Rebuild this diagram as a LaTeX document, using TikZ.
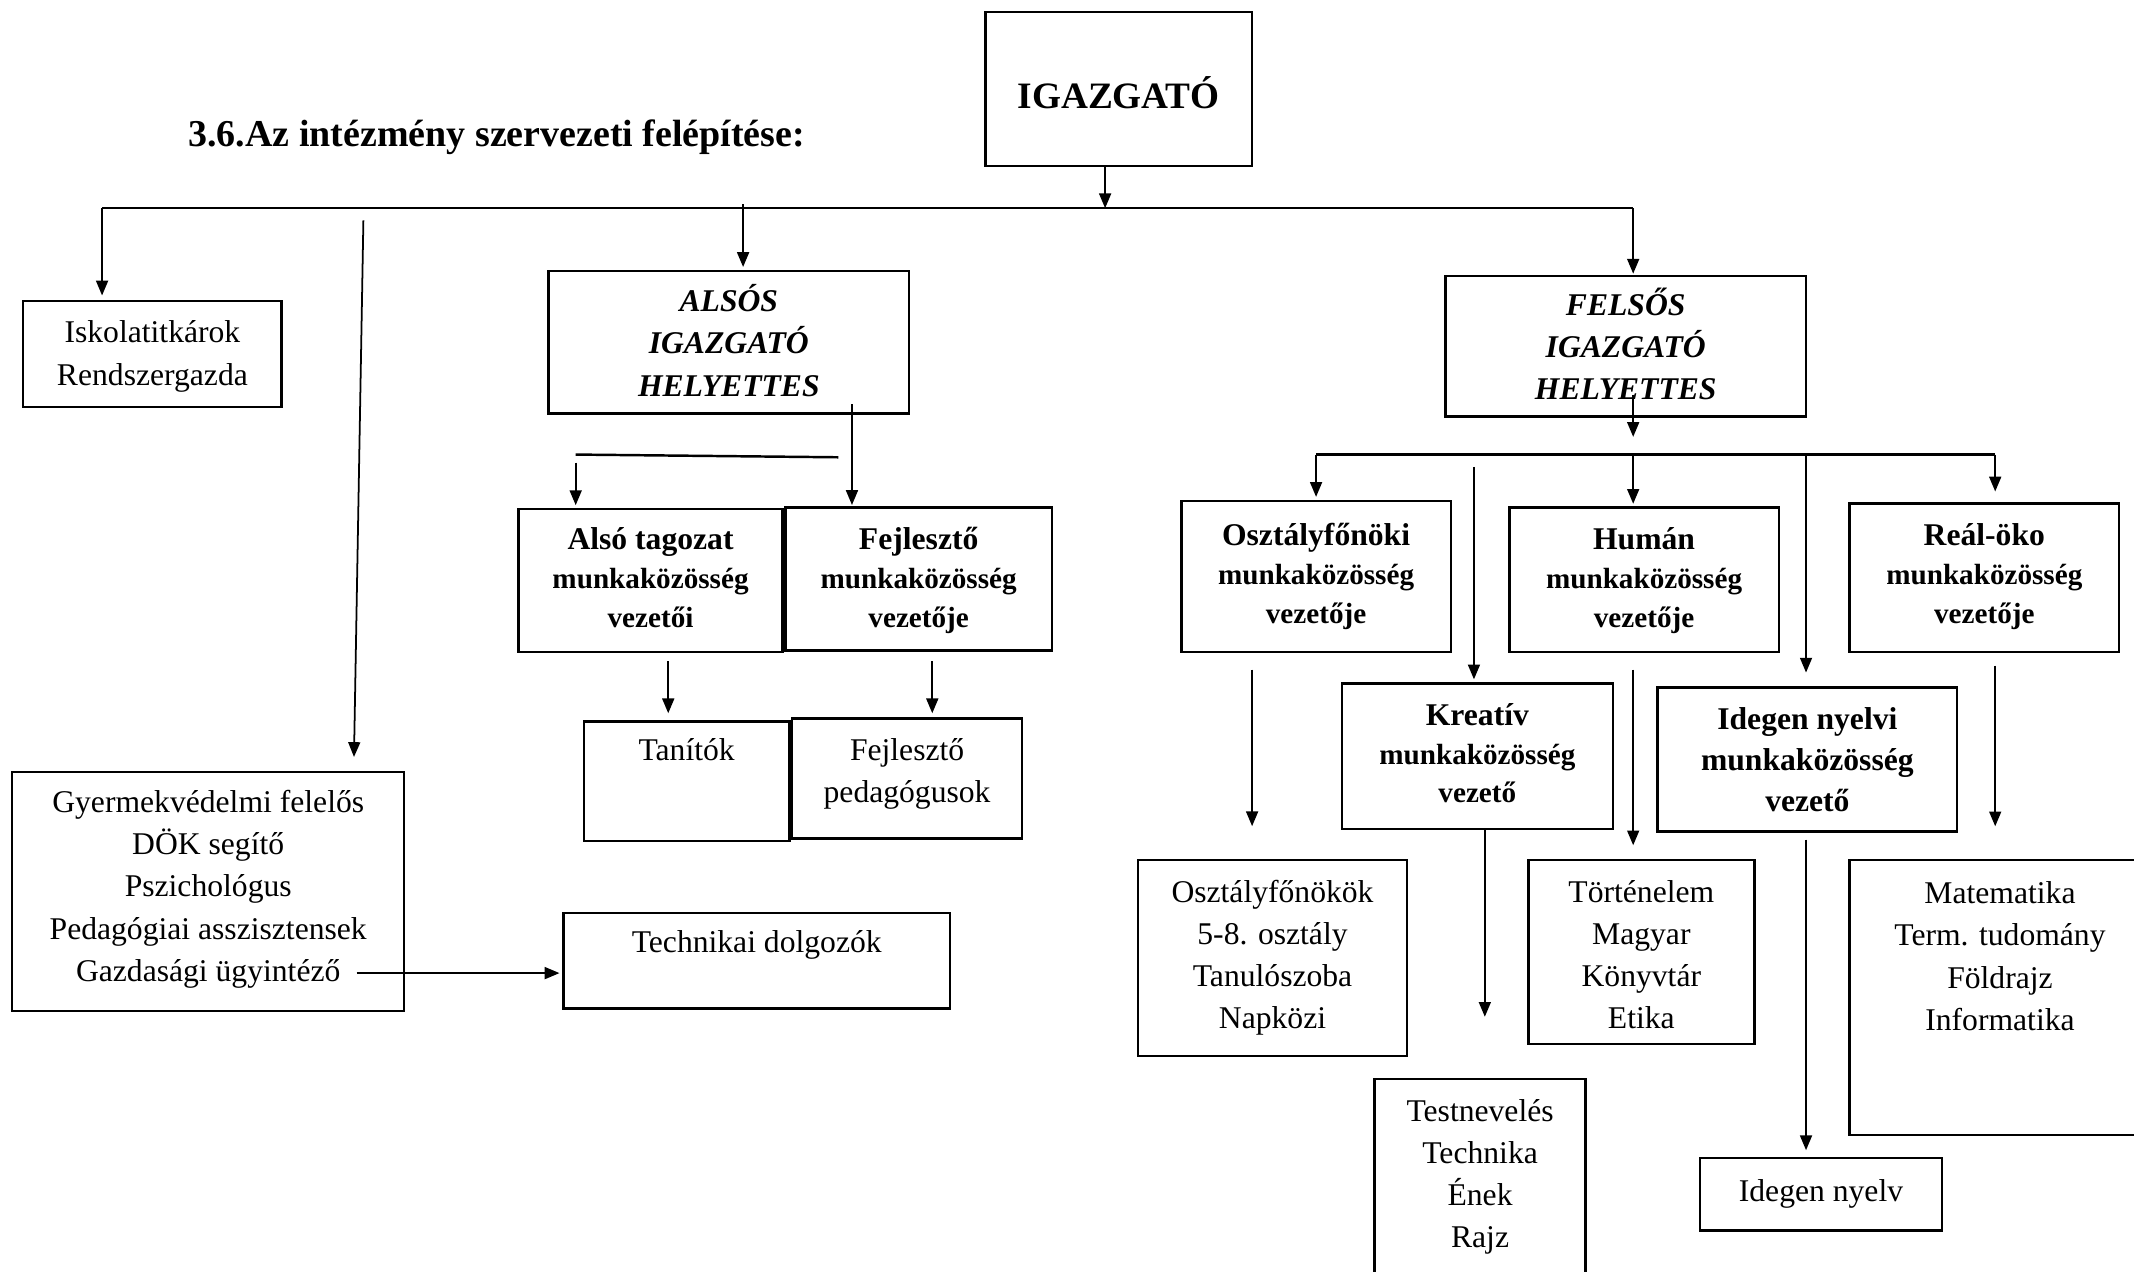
\documentclass[tikz,border=0pt]{standalone}
\usepackage{fontspec}
\setmainfont{Liberation Serif}
\usepackage{tikz}
\usetikzlibrary{fit}
\usetikzlibrary{calc}
\usetikzlibrary{arrows.meta}
\usetikzlibrary{positioning}

\newcommand{\mksmall}[1]{{\fontsize{8.3}{11}\selectfont #1}}

\tikzset{
  box/.style={draw, line width=0.7pt, inner sep=0pt, align=center, font=\fontsize{9}{12}\selectfont},
  leadbox/.style={box, font=\fontsize{9}{11}\selectfont\bfseries},
  deputybox/.style={box, font=\fontsize{9}{12}\selectfont\bfseries\itshape},
  tb/.style 2 args={text height=#1, text depth=#2},
  arr/.style={-{Triangle[length=4.2pt,width=3.4pt]}, line width=0.5pt},
  busline/.style={line width=0.7pt},
}

\begin{document}
\begin{tikzpicture}[x=0.01361cm, y=-0.01361cm]
        \clip (0,0) rectangle (1568,934);
        % title and head
        \node[anchor=west, inner sep=0pt, font=\fontsize{10.8}{13}\selectfont\bfseries] (title) at (138,101) {3.6.Az intézmény szervezeti felépítése:};
        \node[box, font=\fontsize{10.6}{13}\selectfont\bfseries, fit={(724,9) (920,122)}, tb={27.3pt}{16.5pt}] (igaz) {IGAZGATÓ};

        % first level
        \node[box, fit={(17,221) (207,299)}, tb={12pt}{18.2pt}]            (isk)   {Iskolatitkárok\\Rendszergazda};
        \node[deputybox, fit={(403,199) (668,304)}, tb={11.6pt}{29pt}]     (also)  {ALSÓS\\IGAZGATÓ\\HELYETTES};
        \node[deputybox, fit={(1062,203) (1327,306)}, tb={11.2pt}{28.7pt}] (felso) {FELSŐS\\IGAZGATÓ\\HELYETTES};
        \node[box, fit={(9,567) (297,743)}, tb={11.6pt}{56.5pt}]           (gyv)   {Gyermekvédelmi felelős\\DÖK segítő\\Pszichológus\\Pedagógiai asszisztensek\\Gazdasági ügyintéző};
        \node[box, fit={(414,671) (698,741)}, tb={11.2pt}{15.9pt}]         (tech)  {Technikai dolgozók};

        % alsos side
        \node[leadbox, fit={(381,374) (575,479)}, tb={11.6pt}{29pt}]       (altag) {Alsó tagozat\\\mksmall{munkaközösség}\\\mksmall{vezetői}};
        \node[leadbox, fit={(577,373) (773,478)}, tb={12pt}{28.7pt}]       (fejl)  {Fejlesztő\\\mksmall{munkaközösség}\\\mksmall{vezetője}};
        \node[box, fit={(429,530) (580,618)}, tb={11.2pt}{22.9pt}]         (tanit) {Tanítók};
        \node[box, fit={(582,528) (751,616)}, tb={12pt}{22.1pt}]           (fped)  {Fejlesztő\\pedagógusok};

        % felsos side
        \node[leadbox, fit={(868,368) (1066,479)}, tb={12.8pt}{30.2pt}]    (ofo)    {Osztályfőnöki\\\mksmall{munkaközösség}\\\mksmall{vezetője}};
        \node[leadbox, fit={(1109,373) (1307,479)}, tb={12pt}{29pt}]       (human)  {Humán\\\mksmall{munkaközösség}\\\mksmall{vezetője}};
        \node[leadbox, fit={(1359,370) (1557,479)}, tb={12pt}{30.2pt}]     (real)   {Reál-öko\\\mksmall{munkaközösség}\\\mksmall{vezetője}};
        \node[leadbox, fit={(986,502) (1185,609)}, tb={12pt}{29.4pt}]      (kreat)  {Kreatív\\\mksmall{munkaközösség}\\\mksmall{vezető}};
        \node[box, font=\fontsize{9}{11.6}\selectfont\bfseries, fit={(1218,505) (1438,611)}, tb={12pt}{29pt}] (idegen) {Idegen nyelvi\\munkaközösség\\vezető};
        \node[box, fit={(836,632) (1034,776)}, tb={12pt}{43.8pt}]          (ofok)   {Osztályfőnökök\\5-8. osztály\\Tanulószoba\\Napközi};
        \node[box, fit={(1123,632) (1289,767)}, tb={12pt}{40.3pt}]         (tort)   {Történelem\\Magyar\\Könyvtár\\Etika};
        \node[box, fit={(1359,632) (1580,834)}, tb={12.4pt}{65.8pt}]       (mat)    {Matematika\\Term. tudomány\\Földrajz\\Informatika};
        \node[box, fit={(1010,793) (1165,950)}, tb={12pt}{48.8pt}]         (testn)  {Testnevelés\\Technika\\Ének\\Rajz};
        \node[box, fit={(1249,851) (1427,904)}, tb={12.4pt}{8.1pt}]        (inyelv) {Idegen nyelv};

        % top bus
        \coordinate (busL) at (75,153);
        \coordinate (busR) at (1200,153);
        \coordinate (busI) at (812,153);
        \coordinate (busA) at (546,150);
        \coordinate (gyTop) at (267,162);
        \draw[arr] (igaz.south -| busI) -- (busI);
        \draw[busline] (busL) -- (busR);
        \draw[arr] (busL) -- ($(busL |- isk.north)+(0,-3)$);
        \draw[arr] (busA) -- ($(busA |- also.north)+(0,-2)$);
        \draw[arr] (busR) -- ($(busR |- felso.north)+(0,-1)$);
        \draw[arr] (gyTop) -- ($(gyv.north west)+(252,-10)$);

        % alsos branch
        \coordinate (alsoDn) at (626,297);
        \coordinate (alsoBusL) at (423,334);
        \coordinate (alsoBusR) at (616,336);
        \coordinate (altagIn) at (423,340);
        \coordinate (tanitIn) at (491,486);
        \coordinate (fpedIn) at (685,486);
        \coordinate (gazd) at (262,715);
        \draw[arr] (alsoDn) -- ($(alsoDn |- fejl.north)+(0,-1)$);
        \draw[busline] (alsoBusL) -- (alsoBusR);
        \draw[arr] (altagIn) -- ($(altagIn |- altag.north)+(0,-2)$);
        \draw[arr] (tanitIn) -- ($(tanitIn |- tanit.north)+(0,-5)$);
        \draw[arr] (fpedIn) -- ($(fpedIn |- fped.north)+(0,-3)$);
        \draw[arr] (gazd) -- ($(gazd -| tech.west)+(-2,0)$);

        % felsos branch
        \coordinate (felsoDn) at (1200,290);
        \coordinate (bus2L) at (967,334);
        \coordinate (bus2R) at (1466,334);
        \coordinate (bus2H) at (1200,334);
        \coordinate (bus2I) at (1327,334);
        \coordinate (kreatIn) at (1083,343);
        \draw[arr] (felsoDn) -- ($(felsoDn)+(0,31)$);
        \draw[busline] (bus2L) -- (bus2R);
        \draw[arr] (bus2L) -- ($(bus2L |- ofo.north)+(0,-2)$);
        \draw[arr] (bus2H) -- ($(bus2H |- human.north)+(0,-2)$);
        \draw[arr] (bus2R) -- ($(bus2R |- real.north)+(0,-8)$);
        \draw[arr] (bus2I) -- ($(bus2I |- idegen.north)+(0,-10)$);
        \draw[arr] (kreatIn) -- ($(kreatIn |- kreat.north)+(0,-2)$);

        % third level
        \coordinate (ofoDn) at (920,492);
        \coordinate (humanDn) at (1200,492);
        \coordinate (realDn) at (1466,489);
        \coordinate (kreatDn) at (1091,609);
        \coordinate (idegenDn) at (1327,617);
        \draw[arr] (ofoDn) -- ($(ofoDn |- ofok.north)+(0,-24)$);
        \draw[arr] (humanDn) -- ($(humanDn |- tort.north)+(0,-10)$);
        \draw[arr] (realDn) -- ($(realDn |- mat.north)+(0,-24)$);
        \draw[arr] (kreatDn) -- ($(kreatDn |- testn.north)+(0,-45)$);
        \draw[arr] (idegenDn) -- ($(idegenDn |- inyelv.north)+(0,-5)$);
\end{tikzpicture}
\end{document}
